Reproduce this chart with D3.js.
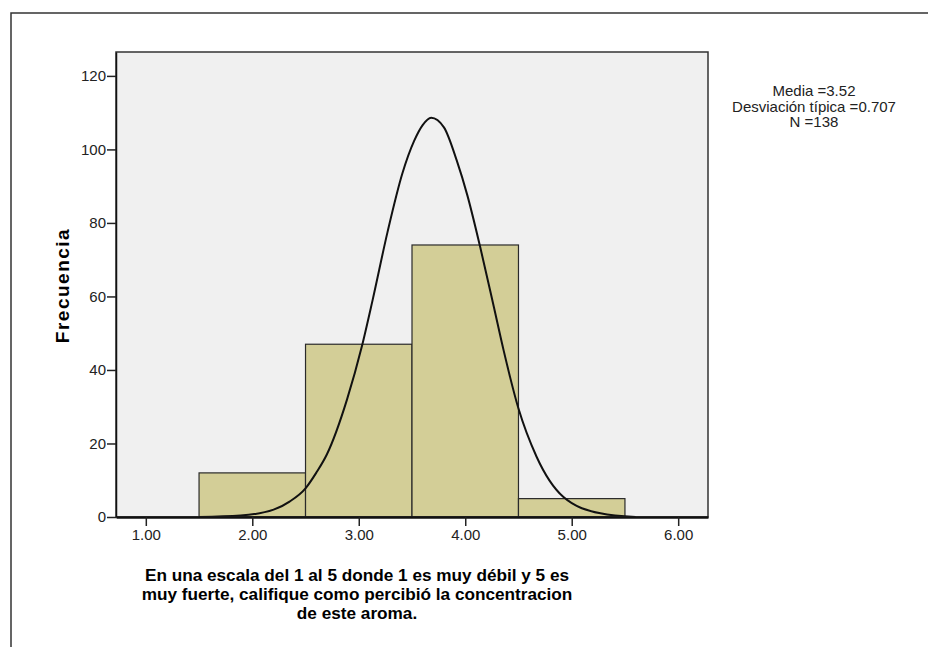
<!DOCTYPE html>
<html>
<head>
<meta charset="utf-8">
<script src="https://cdn.jsdelivr.net/npm/d3@7"></script>
<style>
  body { margin: 0; background: #fff; }
  svg text { font-family: Arial, "Liberation Sans", sans-serif; }
</style>
</head>
<body>
<div id="chart"></div>
<script>

// histogram bins (lower edge, upper edge) and counts
var binStart = [1.5, 2.5, 3.5, 4.5];
var binEnd   = [2.5, 3.5, 4.5, 5.5];
var counts   = [12, 47, 74, 5];

// normal curve
var curveX = [1.5, 1.89, 2.2, 2.35, 2.5, 2.6, 2.7, 2.89, 3.03, 3.13, 3.27, 3.41, 3.52, 3.6, 3.68, 3.8, 3.92, 4.02, 4.14, 4.27, 4.36, 4.5, 4.67, 4.92, 5.27, 5.6];
var curveY = [0, 0.4, 2.0, 4.2, 7.8, 12, 17, 32, 46.5, 59, 77.5, 93.5, 102.3, 106.6, 108.6, 106, 97, 87.5, 73.5, 57, 45.4, 29.5, 16.4, 5.5, 1.0, 0];

var xTicks = [1, 2, 3, 4, 5, 6];
var yTicks = [0, 20, 40, 60, 80, 100, 120];

var statsLines = ["Media =3.52", "Desviación típica =0.707", "N =138"];
var xTitle = ["En una escala del 1 al 5 donde 1 es muy débil y 5 es",
              "muy fuerte, califique como percibió la concentracion",
              "de este aroma."];
var yTitle = "Frecuencia";

var W = 928, H = 647;
var margin = {top: 52, right: 220, bottom: 130, left: 116};
var width = 708 - margin.left,
    height = 517 - margin.top;

var svg = d3.select("#chart").append("svg")
    .attr("width", W)
    .attr("height", H);

// outer frame
svg.append("rect")
    .attr("x", 11).attr("y", 13)
    .attr("width", W).attr("height", H)
    .attr("fill", "none")
    .attr("stroke", "#333")
    .attr("stroke-width", 1.5);

var g = svg.append("g")
    .attr("transform", "translate(" + margin.left + "," + margin.top + ")");

var x = d3.scaleLinear().domain([0.72, 6.28]).range([0, width]);
var y = d3.scaleLinear().domain([0, 126.5]).range([height, 0]);

g.append("rect")
    .attr("width", width).attr("height", height)
    .attr("fill", "#f0f0f0");

var bins = counts.map(function(c, i) { return {x0: binStart[i], x1: binEnd[i], n: c}; });

g.selectAll(".bar")
    .data(bins)
    .enter().append("rect")
    .attr("class", "bar")
    .attr("x", function(d) { return x(d.x0); })
    .attr("y", function(d) { return y(d.n); })
    .attr("width", function(d) { return x(d.x1) - x(d.x0); })
    .attr("height", function(d) { return y(0) - y(d.n); })
    .attr("fill", "#d3ce97")
    .attr("stroke", "#2a2a2a")
    .attr("stroke-width", 1.2);

var pts = curveX.map(function(v, i) { return [v, curveY[i]]; });

g.append("path")
    .datum(pts)
    .attr("fill", "none")
    .attr("stroke", "#111")
    .attr("stroke-width", 2)
    .attr("d", d3.line()
        .x(function(d) { return x(d[0]); })
        .y(function(d) { return y(d[1]); })
        .curve(d3.curveMonotoneX));

// plot border
g.append("rect")
    .attr("width", width).attr("height", height)
    .attr("fill", "none")
    .attr("stroke", "#333")
    .attr("stroke-width", 1.5);

var xAxis = g.append("g")
    .attr("transform", "translate(0," + height + ")")
    .call(d3.axisBottom(x).tickValues(xTicks).tickFormat(d3.format(".2f")).tickSize(9).tickPadding(3).tickSizeOuter(0));

var yAxis = g.append("g")
    .call(d3.axisLeft(y).tickValues(yTicks).tickSize(9).tickPadding(1).tickSizeOuter(0));

[xAxis, yAxis].forEach(function(a) {
    a.select(".domain").attr("stroke", "#111").attr("stroke-width", 2.5);
    a.selectAll(".tick line").attr("stroke", "#222").attr("stroke-width", 1.5);
    a.selectAll(".tick text")
        .attr("fill", "#222")
        .style("font-size", "15px")
        .style("font-family", "Arial, 'Liberation Sans', sans-serif");
});
yAxis.select(".domain").attr("stroke-width", 1.5);

svg.append("text")
    .attr("transform", "translate(69," + (margin.top + height / 2 + 1) + ") rotate(-90)")
    .attr("text-anchor", "middle")
    .style("font-size", "19px")
    .style("font-weight", "bold")
    .style("letter-spacing", "1.5px")
    .attr("fill", "#000")
    .text(yTitle);

svg.append("g").selectAll("text")
    .data(xTitle)
    .enter().append("text")
    .attr("x", 357)
    .attr("y", function(d, i) { return 581 + i * 19; })
    .attr("text-anchor", "middle")
    .style("font-size", "17.2px")
    .style("font-weight", "bold")
    .attr("fill", "#000")
    .text(function(d) { return d; });

svg.append("g").selectAll("text")
    .data(statsLines)
    .enter().append("text")
    .attr("x", 814)
    .attr("y", function(d, i) { return 96 + i * 15.5; })
    .attr("text-anchor", "middle")
    .style("font-size", "15px")
    .attr("fill", "#222")
    .text(function(d) { return d; });

</script>
</body>
</html>
